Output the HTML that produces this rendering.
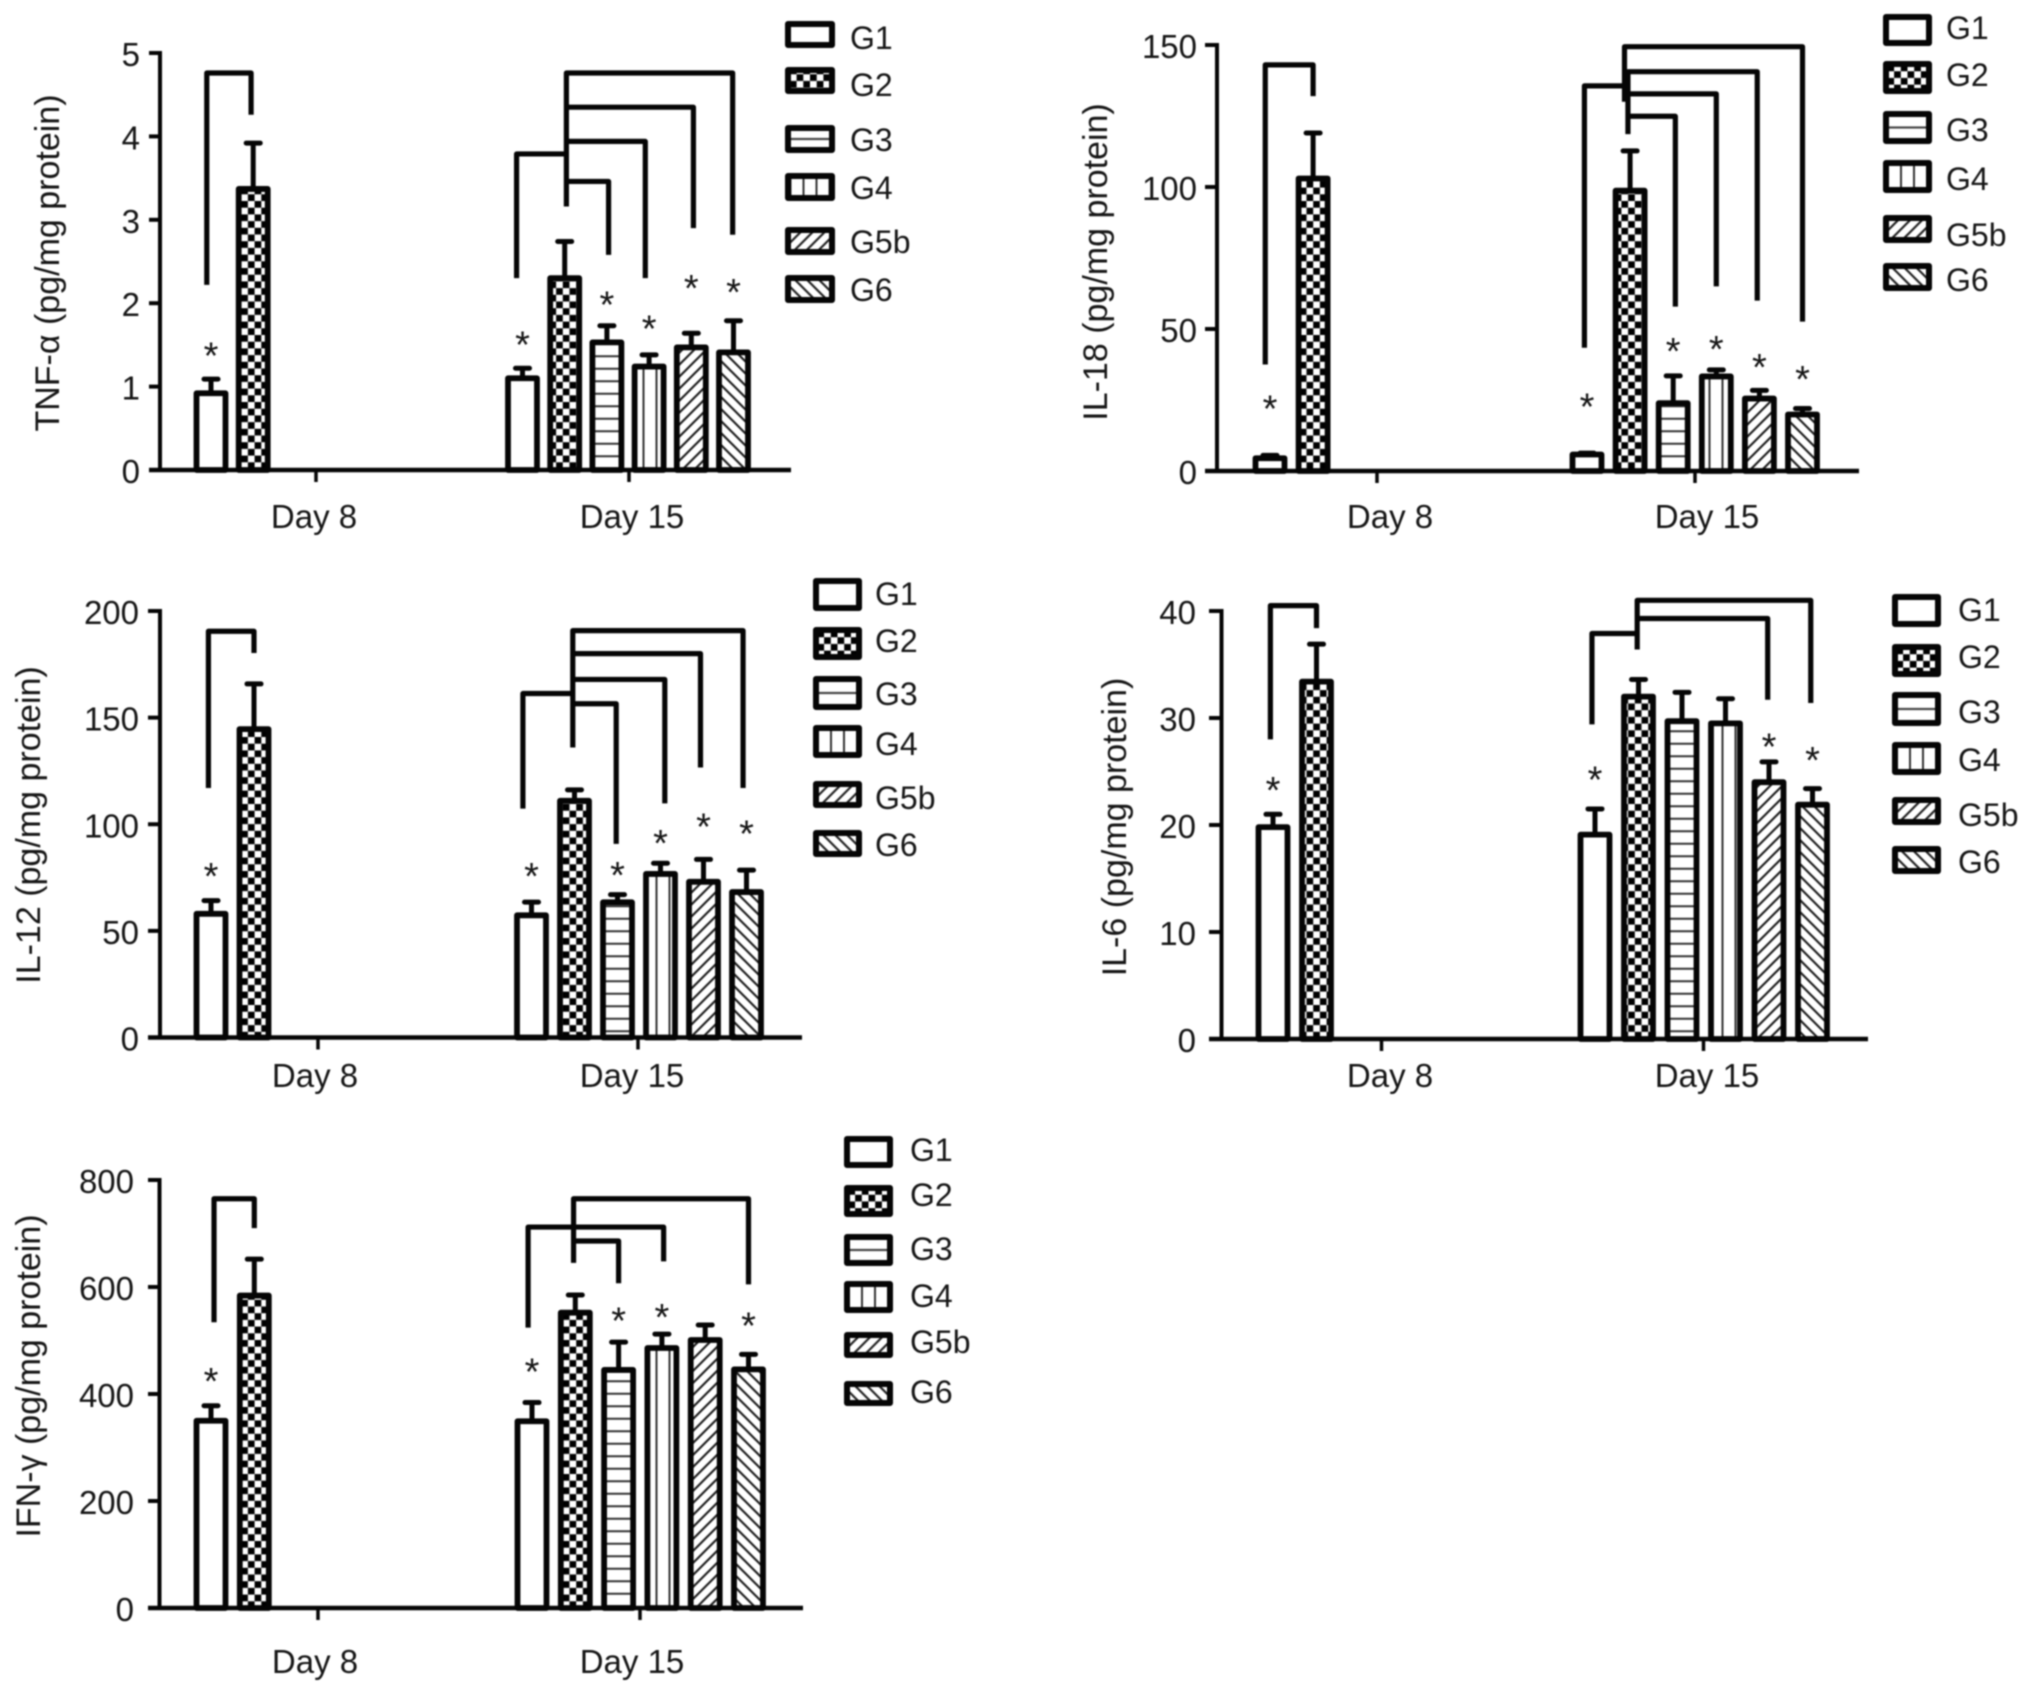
<!DOCTYPE html>
<html lang="en">
<head>
<meta charset="utf-8">
<title>Cytokine levels by group, Day 8 and Day 15</title>
<style>
html,body{margin:0;padding:0;background:#fff;width:2032px;height:1692px;overflow:hidden}
svg{display:block;filter:blur(0.75px)}
text{font-family:"Liberation Sans",Arial,sans-serif;fill:#161616}
</style>
</head>
<body>
<svg id="figure" xmlns="http://www.w3.org/2000/svg" width="2032" height="1692" viewBox="0 0 2032 1692">
<defs>
<pattern id="p-g1" patternUnits="userSpaceOnUse" width="10" height="10"><rect width="10" height="10" fill="#fff"/></pattern>
<pattern id="p-g2" patternUnits="userSpaceOnUse" width="13.4" height="13.4"><rect width="13.4" height="13.4" fill="#fff"/><rect width="6.7" height="6.7" fill="#000"/><rect x="6.7" y="6.7" width="6.7" height="6.7" fill="#000"/></pattern>
<pattern id="p-g3" patternUnits="userSpaceOnUse" width="12.5" height="12.5"><rect width="12.5" height="12.5" fill="#fff"/><rect y="5.25" width="12.5" height="2" fill="#333"/></pattern>
<pattern id="p-g4" patternUnits="userSpaceOnUse" width="13" height="13"><rect width="13" height="13" fill="#fff"/><rect x="5.5" width="2" height="13" fill="#333"/></pattern>
<pattern id="p-g5" patternUnits="userSpaceOnUse" width="12" height="12"><rect width="12" height="12" fill="#fff"/><path d="M-3 3L3 -3M0 12L12 0M9 15L15 9" stroke="#222" stroke-width="2.2" fill="none"/></pattern>
<pattern id="p-g6" patternUnits="userSpaceOnUse" width="12" height="12"><rect width="12" height="12" fill="#fff"/><path d="M-3 9L3 15M0 0L12 12M9 -3L15 3" stroke="#222" stroke-width="2.2" fill="none"/></pattern>
</defs>
</svg>
<script>
// ---------- shared labels ----------
const groupNames = ['G1', 'G2', 'G3', 'G4', 'G5b', 'G6'];
const dayLabels = ['Day 8', 'Day 15'];

// ---------- TNF-alpha ----------
const tnfTicks = [0, 1, 2, 3, 4, 5];
const tnfDay8 = [0.92, 3.37];
const tnfDay8Err = [0.17, 0.55];
const tnfDay15 = [1.1, 2.3, 1.53, 1.24, 1.47, 1.41];
const tnfDay15Err = [0.12, 0.44, 0.2, 0.14, 0.17, 0.38];
const tnfDay8Stars = [1.47, null];
const tnfDay15Stars = [1.6, null, 2.08, 1.79, 2.28, 2.23];
const tnfDay8Brackets = [[-0.1, 2.22, 4.76, 0.95, 4.26]];
const tnfDay15Brackets = [[-0.14, 2.3, 3.79, 1.04, 3.79], [1.04, 3.16, 4.76, 4.98, 2.82], [1.04, 4.35, 4.35, 4.05, 2.9], [1.04, 3.94, 3.94, 2.91, 2.3], [1.04, 3.46, 3.46, 2.04, 2.58]];

// ---------- IL-18 ----------
const il18Ticks = [0, 50, 100, 150];
const il18Day8 = [4.5, 103];
const il18Day8Err = [1, 16];
const il18Day15 = [5.8, 98.7, 23.9, 33.3, 25.5, 19.9];
const il18Day15Err = [0.5, 14, 9.6, 2.3, 2.9, 2.1];
const il18Day8Stars = [24.9, null];
const il18Day15Stars = [25.5, null, 45, 45.7, 39.4, 35.2];
const il18Day8Brackets = [[-0.11, 37.5, 143, 1, 132]];
const il18Day15Brackets = [[-0.06, 43.4, 135.6, 0.87, 135.6], [0.87, 130, 149.4, 5, 52.6], [0.95, 118.6, 140.6, 3.95, 60], [0.95, 132.8, 132.8, 3, 65], [0.95, 124.9, 124.9, 2.05, 57.9]];

// ---------- IL-12 ----------
const il12Ticks = [0, 50, 100, 150, 200];
const il12Day8 = [58, 144.6];
const il12Day8Err = [6.2, 21.2];
const il12Day15 = [57.3, 111, 63.4, 76.7, 73, 68.2];
const il12Day15Err = [6.2, 5.1, 3.6, 5, 10.5, 10.3];
const il12Day8Stars = [79.5, null];
const il12Day15Stars = [79.5, null, 80, 95, 102.6, 99.4];
const il12Day8Brackets = [[-0.06, 117, 190.5, 1, 180.3]];
const il12Day15Brackets = [[-0.2, 107.3, 161.3, 0.96, 161.3], [0.96, 136, 190.8, 4.92, 117], [0.96, 180, 180, 3.93, 126.6], [0.96, 167.9, 167.9, 3.1, 109.8], [0.96, 156.5, 156.5, 1.97, 90.8]];

// ---------- IL-6 ----------
const il6Ticks = [0, 10, 20, 30, 40];
const il6Day8 = [19.8, 33.4];
const il6Day8Err = [1.2, 3.5];
const il6Day15 = [19.1, 32, 29.7, 29.5, 24, 21.9];
const il6Day15Err = [2.4, 1.6, 2.7, 2.3, 1.9, 1.5];
const il6Day8Stars = [24, null];
const il6Day15Stars = [25, null, null, null, 28.1, 26.8];
const il6Day8Brackets = [[-0.06, 28, 40.5, 1, 38.4]];
const il6Day15Brackets = [[-0.07, 29.4, 37.9, 0.97, 37.9], [0.97, 36.4, 41, 4.96, 31.4], [0.97, 39.3, 39.3, 3.97, 31.7]];

// ---------- IFN-gamma ----------
const ifnTicks = [0, 200, 400, 600, 800];
const ifnDay8 = [350, 584];
const ifnDay8Err = [28, 68];
const ifnDay15 = [349, 552, 445, 486, 501, 446];
const ifnDay15Err = [35, 33, 52, 26, 28, 28];
const ifnDay8Stars = [439, null];
const ifnDay15Stars = [457, null, 552, 559, null, 543];
const ifnDay8Brackets = [[0.07, 534, 765, 1, 710]];
const ifnDay15Brackets = [[-0.09, 524, 712, 3.04, 648], [0.96, 645, 765, 5, 605], [0.96, 686, 686, 2, 607]];

const NS = 'http://www.w3.org/2000/svg';
const root = document.getElementById('figure');
const INK = '#050505';

function mk(tag, parent, attrs) {
  const el = document.createElementNS(NS, tag);
  for (const k in attrs) el.setAttribute(k, attrs[k]);
  parent.appendChild(el);
  return el;
}
function mkText(parent, x, y, str, size, anchor) {
  const t = mk('text', parent, {x: x, y: y, 'font-size': size, 'text-anchor': anchor});
  t.textContent = str;
  return t;
}

function drawChart(c) {
  const g = mk('g', root, {});
  
  

  const ticksMax = c.ticks[c.ticks.length - 1];
  const y = v => c.base - (v / ticksMax) * (c.base - c.top);
  const slotX = (first, i) => first + i * c.pitch;

  // axes
  const yAxis = mk('line', g, {x1: c.axisX, x2: c.axisX, y1: c.top - 2, y2: c.base, stroke: INK, 'stroke-width': 4});
  
  

  c.ticks.forEach(v => {
    const tick = mk('line', g, {x1: c.startX, x2: c.axisX, y1: y(v), y2: y(v), stroke: INK, 'stroke-width': 4});
    
    
    const lab = mkText(g, c.tickLabelX, y(v) + 13, String(v), 33, 'end');
    
    
  });

  const title = mk('text', g, {'font-size': 34, 'text-anchor': 'middle', 'dominant-baseline': 'central', transform: `translate(${c.labelX},${c.labelY}) rotate(-90)`, fill: '#222'});
  title.textContent = c.title;
  
  

  // bars, one group per day
  const groups = [
    {first: c.first8, vals: c.day8, errs: c.day8Err, stars: c.day8Stars, brackets: c.day8Brackets, tag: 'day8'},
    {first: c.first15, vals: c.day15, errs: c.day15Err, stars: c.day15Stars, brackets: c.day15Brackets, tag: 'day15'}
  ];
  groups.forEach(d => {
    d.vals.forEach((v, i) => {
      const cx = slotX(d.first, i);
      const top = y(v);
      const stem = mk('line', g, {x1: cx, x2: cx, y1: top, y2: y(v + d.errs[i]), stroke: INK, 'stroke-width': 5});
      
      
      const cap = mk('line', g, {x1: cx - 7, x2: cx + 7, y1: y(v + d.errs[i]), y2: y(v + d.errs[i]), stroke: INK, 'stroke-width': 5, 'stroke-linecap': 'round'});
      
      
      const bar = mk('rect', g, {x: cx - 14.5, y: top, width: 29, height: c.base - top, fill: `url(#p-g${i + 1})`, stroke: INK, 'stroke-width': 5.8, 'stroke-linejoin': 'round'});
      
      
    });
    d.stars.forEach((s, i) => {
      if (s === null) return;
      const star = mkText(g, slotX(d.first, i), y(s) + 21, '*', 38, 'middle');
      
      
    });
    d.brackets.forEach(b => {
      const xa = slotX(d.first, b[0]);
      const xb = slotX(d.first, b[3]);
      const pts = `${xa},${y(b[1])} ${xa},${y(b[2])} ${xb},${y(b[2])} ${xb},${y(b[4])}`;
      const br = mk('polyline', g, {points: pts, fill: 'none', stroke: INK, 'stroke-width': 5.2, 'stroke-linejoin': 'round'});
      
      
    });
  });

  // x axis drawn over bar bottoms
  const xAxis = mk('line', g, {x1: c.startX, x2: c.endX, y1: c.base, y2: c.base, stroke: INK, 'stroke-width': 4.5});
  
  
  c.xTicks.forEach((tx, i) => {
    const tick = mk('line', g, {x1: tx, x2: tx, y1: c.base, y2: c.base + 12, stroke: INK, 'stroke-width': 3.5});
    
    
    const lab = mkText(g, c.dayX[i], c.dayY + 12, dayLabels[i], 33, 'middle');
    
    
  });

  // legend
  const lg = mk('g', g, {});
  
  
  groupNames.forEach((name, i) => {
    const h = c.legendBottom[i] - c.legendTop[i];
    const cy = (c.legendTop[i] + c.legendBottom[i]) / 2;
    const w = c.legendW;
    const sw = mk('g', lg, {transform: `translate(${c.legendX + w / 2},${cy - 6.25})`});
    
    
    const box = mk('rect', sw, {x: -w / 2 + 3, y: 6.25 - h / 2 + 3, width: w - 6, height: h - 6, fill: `url(#p-g${i + 1})`, stroke: INK, 'stroke-width': 6, 'stroke-linejoin': 'round'});
    
    
    const lab = mkText(lg, c.legendTextX, c.legendText[i] + 11, name, 32, 'start');
    
    
  });
}

drawChart({
  key: 'tnf', title: 'TNF-α (pg/mg protein)', ticks: tnfTicks,
  day8: tnfDay8, day8Err: tnfDay8Err, day15: tnfDay15, day15Err: tnfDay15Err,
  day8Stars: tnfDay8Stars, day15Stars: tnfDay15Stars, day8Brackets: tnfDay8Brackets, day15Brackets: tnfDay15Brackets,
  axisX: 160, startX: 149, endX: 791, top: 53, base: 470, tickLabelX: 140, labelX: 48, labelY: 263,
  first8: 211, first15: 522.5, pitch: 42.2, xTicks: [316, 629], dayX: [314, 632], dayY: 516,
  legendX: 785, legendW: 50, legendTextX: 850,
  legendTop: [21, 67, 125, 173, 227, 275], legendBottom: [48, 94, 153, 201, 255, 303], legendText: [38, 85, 140, 188, 242, 290]
});
drawChart({
  key: 'il18', title: 'IL-18 (pg/mg protein)', ticks: il18Ticks,
  day8: il18Day8, day8Err: il18Day8Err, day15: il18Day15, day15Err: il18Day15Err,
  day8Stars: il18Day8Stars, day15Stars: il18Day15Stars, day8Brackets: il18Day8Brackets, day15Brackets: il18Day15Brackets,
  axisX: 1217, startX: 1205, endX: 1859, top: 45, base: 471, tickLabelX: 1197, labelX: 1096, labelY: 262,
  first8: 1270, first15: 1587, pitch: 43.1, xTicks: [1377, 1695], dayX: [1390, 1707], dayY: 516,
  legendX: 1883, legendW: 49, legendTextX: 1946,
  legendTop: [14, 61, 111, 160, 215, 263], legendBottom: [46, 94, 144, 193, 243, 291], legendText: [28, 75, 130, 179, 235, 280]
});
drawChart({
  key: 'il12', title: 'IL-12 (pg/mg protein)', ticks: il12Ticks,
  day8: il12Day8, day8Err: il12Day8Err, day15: il12Day15, day15Err: il12Day15Err,
  day8Stars: il12Day8Stars, day15Stars: il12Day15Stars, day8Brackets: il12Day8Brackets, day15Brackets: il12Day15Brackets,
  axisX: 160, startX: 148, endX: 802, top: 611, base: 1037.5, tickLabelX: 139, labelX: 29, labelY: 825,
  first8: 211, first15: 531.5, pitch: 43, xTicks: [318, 638], dayX: [315, 632], dayY: 1075,
  legendX: 813, legendW: 49, legendTextX: 875,
  legendTop: [578, 627, 676, 725, 781, 830], legendBottom: [611, 660, 710, 758, 808, 857], legendText: [594, 641, 694, 744, 798, 845]
});
drawChart({
  key: 'il6', title: 'IL-6 (pg/mg protein)', ticks: il6Ticks,
  day8: il6Day8, day8Err: il6Day8Err, day15: il6Day15, day15Err: il6Day15Err,
  day8Stars: il6Day8Stars, day15Stars: il6Day15Stars, day8Brackets: il6Day8Brackets, day15Brackets: il6Day15Brackets,
  axisX: 1221.5, startX: 1209, endX: 1868, top: 611, base: 1039, tickLabelX: 1196, labelX: 1115, labelY: 827,
  first8: 1273, first15: 1595, pitch: 43.5, xTicks: [1381.5, 1703.5], dayX: [1390, 1707], dayY: 1075,
  legendX: 1892, legendW: 49, legendTextX: 1958,
  legendTop: [594, 644, 692, 742, 797, 846], legendBottom: [627, 677, 726, 775, 825, 874], legendText: [610, 657, 712, 760, 815, 862]
});
drawChart({
  key: 'ifn', title: 'IFN-γ (pg/mg protein)', ticks: ifnTicks,
  day8: ifnDay8, day8Err: ifnDay8Err, day15: ifnDay15, day15Err: ifnDay15Err,
  day8Stars: ifnDay8Stars, day15Stars: ifnDay15Stars, day8Brackets: ifnDay8Brackets, day15Brackets: ifnDay15Brackets,
  axisX: 159.5, startX: 148, endX: 803, top: 1180, base: 1608, tickLabelX: 134, labelX: 29, labelY: 1376,
  first8: 211, first15: 532, pitch: 43.3, xTicks: [318, 640], dayX: [315, 632], dayY: 1661,
  legendX: 844, legendW: 49, legendTextX: 910,
  legendTop: [1136, 1185, 1234, 1281, 1332, 1381], legendBottom: [1168, 1217, 1266, 1313, 1358, 1406], legendText: [1150, 1195, 1249, 1296, 1342, 1392]
});
</script>
</body>
</html>
